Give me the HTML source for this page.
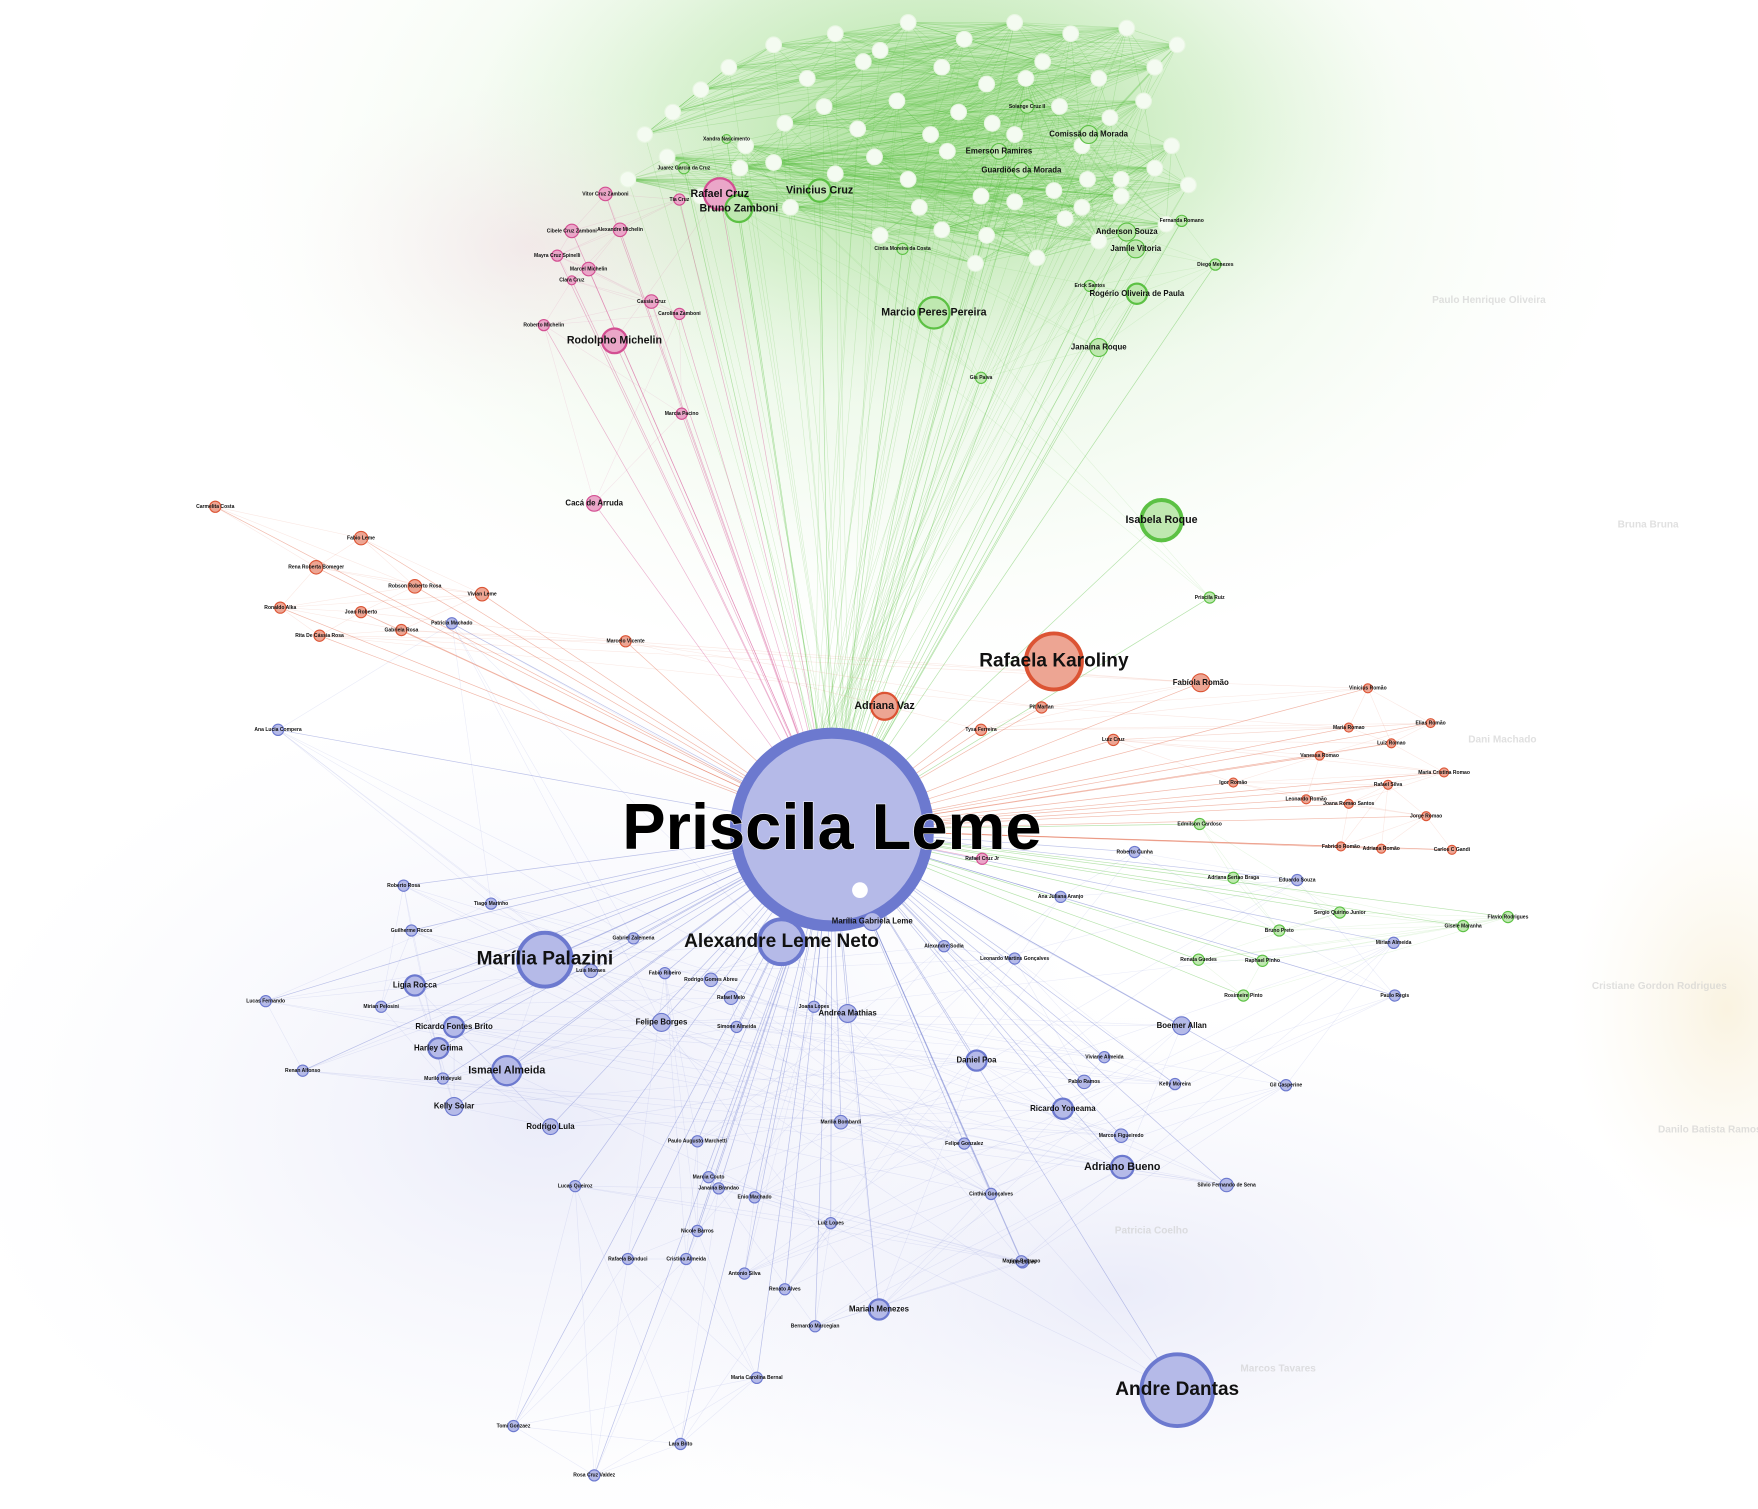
<!DOCTYPE html>
<html><head><meta charset="utf-8">
<style>
html,body{margin:0;padding:0;background:#fff;}
svg{display:block;}
text{font-family:"Liberation Sans",sans-serif;font-weight:bold;text-anchor:middle;dominant-baseline:middle;}
</style></head>
<body>
<svg id="graph" width="1758" height="1509" viewBox="0 0 1568 1346" preserveAspectRatio="none" xmlns="http://www.w3.org/2000/svg">
<defs>
<radialGradient id="gHaze" cx="0.5" cy="0.5" r="0.5"><stop offset="0" stop-color="#7ccf62" stop-opacity="0.55"/><stop offset="0.6" stop-color="#a8e096" stop-opacity="0.25"/><stop offset="1" stop-color="#d8f2cf" stop-opacity="0"/></radialGradient>
<radialGradient id="bHaze" cx="0.5" cy="0.5" r="0.5"><stop offset="0" stop-color="#c5c9ee" stop-opacity="0.35"/><stop offset="1" stop-color="#e6e8f8" stop-opacity="0"/></radialGradient>
<radialGradient id="pHaze" cx="0.5" cy="0.5" r="0.5"><stop offset="0" stop-color="#f0c0d8" stop-opacity="0.3"/><stop offset="1" stop-color="#f8e4ee" stop-opacity="0"/></radialGradient>
<radialGradient id="yHaze" cx="0.5" cy="0.5" r="0.5"><stop offset="0" stop-color="#f0dca8" stop-opacity="0.35"/><stop offset="1" stop-color="#f6ecd0" stop-opacity="0"/></radialGradient>
</defs>
<g>
<ellipse cx="840" cy="110" rx="420" ry="250" fill="url(#gHaze)"/>
<ellipse cx="820" cy="160" rx="640" ry="440" fill="url(#gHaze)" opacity="0.5"/>
<ellipse cx="480" cy="1000" rx="520" ry="380" fill="url(#bHaze)"/>
<ellipse cx="1000" cy="1150" rx="500" ry="250" fill="url(#bHaze)"/>
<ellipse cx="470" cy="220" rx="220" ry="150" fill="url(#pHaze)"/>
<ellipse cx="1540" cy="900" rx="140" ry="200" fill="url(#yHaze)"/>
</g>
<g id="edges"></g>
<g id="whites"></g>
<g id="nodes"></g>
<g fill="#ccc" opacity="0.6" font-size="9">
<text x="1328" y="268">Paulo Henrique Oliveira</text>
<text x="1027" y="1098">Patricia Coelho</text>
<text x="1140" y="1221">Marcos Tavares</text>
<text x="1480" y="880">Cristiane Gordon Rodrigues</text>
<text x="1525" y="1008">Danilo Batista Ramos</text>
<text x="1340" y="660">Dani Machado</text>
<text x="1470" y="468">Bruna Bruna</text>
</g>
</svg>
<script>
const hubName = "Priscila Leme";
const hubPos = [742, 740];
const hubR = 86;
const names = ["Rafaela Karoliny","Isabela Roque","Andre Dantas","Marília Palazini","Alexandre Leme Neto","Ismael Almeida","Rafael Cruz","Bruno Zamboni","Rodolpho Michelin","Marcio Peres Pereira","Vinicius Cruz","Adriana Vaz","Marília Gabriela Leme",
"Solange Cruz II","Comissão da Morada","Emerson Ramires","Guardiões da Morada","Anderson Souza","Jamile Vitoria","Fernanda Romano","Diego Menezes","Erick Santos","Rogério Oliveira de Paula","Janaina Roque","Gis Paiva","Cintia Moreira da Costa","Xandra Nascimento","Juarez Garcia da Cruz","Priscila Ruiz",
"Vitor Cruz Zamboni","Tia Cruz","Cibele Cruz Zamboni","Alexandre Michelin","Mayra Cruz Spinelli","Marcel Michelin","Clara Cruz","Cassia Cruz","Carolina Zamboni","Roberto Michelin","Marcia Pacino","Cacá de Arruda",
"Carmelita Costa","Fabio Leme","Rena Roberta Bomeger","Robson Roberto Rosa","Vivian Leme","Ronaldo Alka","Joao Roberto","Gabriela Rosa","Rita De Cássia Rosa","Marcelo Vicente","Fabíola Romão","Pit Marfan","Tysa Ferreira","Vinicius Romão","Maria Romao","Elias Romão","Luiz Romao","Luiz Cruz","Vanessa Romao","Maria Cristina Romao","Igor Romão","Leonardo Romão","Joana Romao Santos","Rafael Silva","Jorge Romao","Fabricio Romão","Adriana Romão","Carlos C Gandi","Rafael Cruz Jr",
"Edmilson Cardoso","Adriana Sertao Braga","Bruno Preto","Sergio Quirino Junior","Gisele Maranha","Flavio Rodrigues","Renata Guedes","Raphael Pinho","Rosimeire Pinto",
"Ligia Rocca","Harley Grima","Kelly Solar","Rodrigo Lula","Ricardo Fontes Brito","Daniel Poa","Ricardo Yoneama","Adriano Bueno","Mariah Menezes","Boemer Allan","Felipe Borges","Andrea Mathias","Patricia Machado","Ana Lucia Compera","Tiago Marinho","Gabriel Zalemena","Luis Moraes","Lucas Fernando","Renan Alfonso","Marcos Figueiredo","Silvio Fernando de Sena","Marilia Bombardi","Rodrigo Gomes Abreu","Felipe Gonzalez","Cinthia Gonçalves","Roberto Rosa","Guilherme Rocca","Murilo Hideyuki","Mirian Pelosini","Rafael Melo","Simone Almeida","Kelly Moreira","Viviane Almeida","Pablo Ramos","Leonardo Martins Gonçalves","Alexandre Sodia","Paulo Augusto Marchetti","Fabio Ribeiro","Nicole Barros","Cristina Almeida","Rafaela Bonduci","Maria Carolina Bernal","Tomi Gonzaez","Rosa Cruz Valdez","Lara Brito","Lucas Queiroz","Janaina Brandao","Luiz Lopes","Jane Lopes","Marcia Couto","Bernardo Marcegian","Marina Beltrano","Mirian Almeida","Gil Casperine","Joana Lopes","Antonio Silva","Enio Machado","Eduardo Souza","Paulo Regis","Ana Juliana Aranjo","Roberto Cunha","Renato Alves"];
const xs = [940,1036,1050,486,697,452,642,659,548,833,731,789,778,
916,971,891,911,1005,1013,1054,1084,972,1014,980,875,805,648,610,1079,
540,606,510,553,497,525,510,581,606,485,608,530,
192,322,282,370,430,250,322,358,285,558,1071,929,875,1220,1203,1276,1241,993,1177,1288,1100,1165,1203,1238,1272,1196,1232,1295,876,
1070,1100,1141,1195,1305,1345,1069,1126,1109,
370,391,405,491,405,871,948,1001,784,1054,590,756,403,248,438,565,527,237,270,1000,1094,750,634,860,884,360,367,395,340,652,657,1048,985,967,905,842,622,593,622,612,560,675,458,530,607,513,641,741,912,632,727,911,1243,1147,726,664,673,1157,1244,946,1012,700];
const ys = [590,464,1240,856,840,955,173,186,304,279,170,630,822,
95,120,135,152,207,222,197,236,255,262,310,337,222,124,150,533,
173,178,206,205,228,240,250,269,280,290,369,449,
452,480,506,523,530,542,546,562,567,572,609,631,651,614,649,645,663,660,674,689,698,713,717,700,728,755,757,758,766,
735,783,830,814,826,818,856,857,888,
879,935,987,1005,916,946,989,1041,1168,915,912,904,556,651,806,837,866,893,955,1013,1057,1001,874,1020,1065,790,830,962,898,890,916,967,943,965,855,844,1018,868,1098,1123,1123,1229,1272,1316,1288,1058,1060,1091,1126,1050,1183,1125,841,968,898,1136,1068,785,888,800,760,1150];
const rs = [25,18,32,24,20,13,14,12,11,14,10,12,8,
6,8,7,7,8,8,5,5,5,9,8,5,5,4,5,5,
6,5,6,6,5,6,4,6,5,5,5,7,
5,6,6,6,6,5,5,5,5,5,8,5,5,4,4,4,4,5,4,4,4,4,4,4,4,4,4,4,5,
5,5,5,5,5,5,5,5,5,
9,9,8,7,9,9,9,10,9,8,8,8,5,5,5,5,6,5,5,6,6,6,6,5,5,5,5,5,5,6,5,5,5,6,5,5,5,5,5,5,5,5,5,5,5,5,5,5,5,5,5,5,5,5,5,5,5,5,5,5,5,5,5,5];
const groups = ["r","g","b","b","b","b","p","g","p","g","g","r","b",
"g","g","g","g","g","g","g","g","g","g","g","g","g","g","g","g",
"p","p","p","p","p","p","p","p","p","p","p","p",
"r","r","r","r","r","r","r","r","r","r","r","r","r","r","r","r","r","r","r","r","r","r","r","r","r","r","r","r","p",
"g","g","g","g","g","g","g","g","g",
"b","b","b","b","b","b","b","b","b","b","b","b","b","b","b","b","b","b","b","b","b","b","b","b","b","b","b","b","b","b","b","b","b","b","b","b","b","b","b","b","b","b","b","b","b","b","b","b","b","b","b","b","b","b","b","b","b","b","b","b","b","b"];
const whiteXs = [575,600,625,650,690,720,745,770,785,810,840,860,880,905,930,955,980,1005,1030,1050,700,735,765,800,830,855,885,945,965,990,1020,660,690,745,780,810,845,875,905,940,970,1000,1030,840,925,965,980,880,915,560,595,625,665,705,1045,1060,1040,1000,950,905,870,820,785];
const whiteYs = [120,100,80,60,40,70,30,55,45,20,60,35,75,20,55,30,70,25,60,40,110,95,115,90,120,100,110,95,130,105,90,150,145,155,140,160,135,175,180,170,160,175,150,205,230,185,215,210,70,160,140,175,130,185,130,165,200,160,195,120,235,185,210];
const colors = {b:["#b5bae8","#6c79cf"],r:["#eda593","#dc5434"],g:["#bfe8b0","#5cc144"],p:["#eaa6c8","#d34f92"]};
const edgeCol = {b:"#6c79cf",r:"#e0603f",g:"#5cc144",p:"#d8569a"};
const NS="http://www.w3.org/2000/svg";
const eG=document.getElementById('edges'), wG=document.getElementById('whites'), nG=document.getElementById('nodes');
function mk(t,a,p){const e=document.createElementNS(NS,t);for(const k in a)e.setAttribute(k,a[k]);p.appendChild(e);return e;}
for(let i=0;i<whiteXs.length;i++){for(let j=i+1;j<Math.min(whiteXs.length,i+14);j++){
 const l=mk('line',{x1:whiteXs[i],y1:whiteYs[i],x2:whiteXs[j],y2:whiteYs[j],stroke:"#5cc144","stroke-width":0.5,"stroke-opacity":0.3},eG);
 
 
}}
for(let i=0;i<whiteXs.length;i++){
 const l=mk('line',{x1:whiteXs[i],y1:whiteYs[i],x2:hubPos[0]+((i%7)-3)*5,y2:hubPos[1]-80,stroke:"#5cc144","stroke-width":0.4,"stroke-opacity":0.3},eG);
 
 
}
for(let i=0;i<names.length;i++){
 const l=mk('line',{x1:hubPos[0],y1:hubPos[1],x2:xs[i],y2:ys[i],stroke:edgeCol[groups[i]],"stroke-width":0.6,"stroke-opacity":0.45},eG);
 
 
}
for(let i=0;i<names.length;i++){for(let j=i+1;j<Math.min(names.length,i+4);j++){if(groups[i]===groups[j]){
 const l=mk('line',{x1:xs[i],y1:ys[i],x2:xs[j],y2:ys[j],stroke:edgeCol[groups[i]],"stroke-width":0.5,"stroke-opacity":0.15},eG);
 
 
}}}
for(let i=0;i<whiteXs.length;i++){
 const c=mk('circle',{cx:whiteXs[i],cy:whiteYs[i],r:7,fill:"#f4fbf1",stroke:"#e8f6e2","stroke-width":1},wG);
 
 
}
const hub=mk('circle',{cx:hubPos[0],cy:hubPos[1],r:hubR,fill:"#b5bae8",stroke:"#6c79cf","stroke-width":10},nG);


mk('circle',{cx:767,cy:794,r:7,fill:"#fff"},nG);
for(let i=0;i<names.length;i++){
 const c=colors[groups[i]];
 const n=mk('circle',{cx:xs[i],cy:ys[i],r:rs[i],fill:c[0],stroke:c[1],"stroke-width":rs[i]>=18?3.5:(rs[i]>=9?2:1)},nG);
 
 
}
for(let i=0;i<names.length;i++){
 const fs=rs[i]>=20?17:(rs[i]>=10?9.5:(rs[i]>=7?7:4.5));
 const t=mk('text',{x:xs[i],y:ys[i],"font-size":fs,fill:"#111"},nG);
 t.textContent=names[i];
 
 
}
const ht=mk('text',{x:hubPos[0],y:hubPos[1]+2,"font-size":58,fill:"#000",stroke:"#fff","stroke-width":1,"paint-order":"stroke"},nG);
ht.textContent=hubName;


</script>
</body></html>
